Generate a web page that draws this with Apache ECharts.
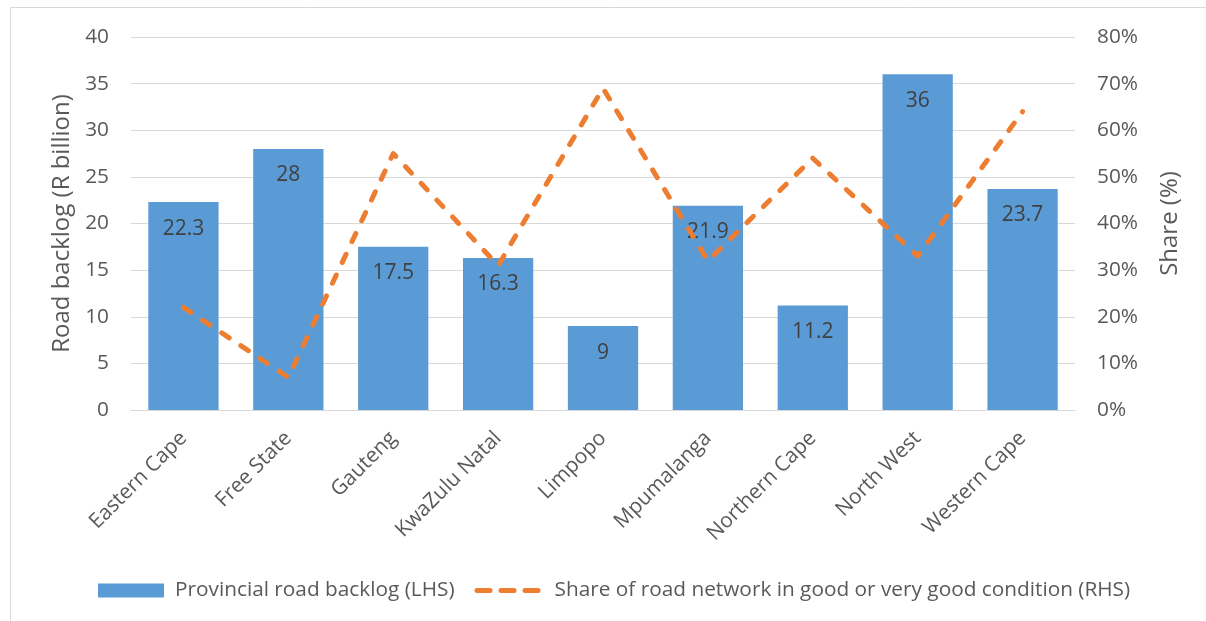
<!DOCTYPE html>
<html>
<head>
<meta charset="utf-8">
<script src="https://cdn.jsdelivr.net/npm/echarts@6/dist/echarts.min.js"></script>
<style>
  html, body { margin: 0; padding: 0; background: #fff; }
  #chart { width: 1206px; height: 621px; }
</style>
</head>
<body>
<div id="chart"></div>
<script>
// provinces
const provinces = ["Eastern Cape", "Free State", "Gauteng", "KwaZulu Natal", "Limpopo",
  "Mpumalanga", "Northern Cape", "North West", "Western Cape"];
// road backlog, R billion (LHS)
const backlog = [22.3, 28, 17.5, 16.3, 9, 21.9, 11.2, 36, 23.7];
// share of network in good / very good condition, % (RHS)
const goodShare = [22, 7, 55, 31, 69, 32, 54, 33, 64];

const leftTicks = { min: 0, max: 40, interval: 5 };
const rightTicks = { min: 0, max: 80, interval: 10 };

const FONT = "'Open Sans', sans-serif";
const GREY = "#595959";

// three rounded dashes for the legend (with invisible points so it sits in a 14px box)
const DASH_ICON =
  "path://M0,-4.5 L0.01,-4.5 L0,-4.5 Z M0,9.5 L0.01,9.5 L0,9.5 Z " +
  "M2.5,0 H15.5 A2.5,2.5 0 0 1 15.5,5 H2.5 A2.5,2.5 0 0 1 2.5,0 Z " +
  "M26.5,0 H39.5 A2.5,2.5 0 0 1 39.5,5 H26.5 A2.5,2.5 0 0 1 26.5,0 Z " +
  "M50.5,0 H63.5 A2.5,2.5 0 0 1 63.5,5 H50.5 A2.5,2.5 0 0 1 50.5,0 Z";

const chart = echarts.init(document.getElementById("chart"));

const option = {
  backgroundColor: "#fff",
  textStyle: { fontFamily: FONT },
  animation: false,
  graphic: [
    {
      type: "rect",
      shape: { x: 10.5, y: 7.5, width: 1300, height: 700 },
      style: { fill: "none", stroke: "#d9d9d9", lineWidth: 1 },
      silent: true,
    },
  ],
  grid: { left: 131, right: 131, top: 37, bottom: 211 },
  legend: {
    left: 93,
    top: 575,
    itemWidth: 66,
    itemHeight: 14,
    itemGap: 20,
    textStyle: { fontFamily: FONT, fontSize: 20.8, color: GREY, padding: [0, 0, 0, 6] },
    data: [
      { name: "Provincial road backlog (LHS)", icon: "rect" },
      {
        name: "Share of road network in good or very good condition (RHS)",
        icon: DASH_ICON,
        itemStyle: { color: "#ed7d31" },
        textStyle: { padding: [0, 0, 0, 9] },
      },
    ],
  },
  xAxis: {
    type: "category",
    data: provinces,
    axisTick: { show: false },
    axisLine: { lineStyle: { color: "#d9d9d9", width: 1 } },
    axisLabel: {
      rotate: 45,
      fontFamily: FONT,
      fontSize: 20.8,
      color: GREY,
      margin: 25,
      interval: 0,
    },
  },
  yAxis: [
    {
      type: "value",
      min: leftTicks.min,
      max: leftTicks.max,
      interval: leftTicks.interval,
      name: "Road backlog (R billion)",
      nameLocation: "middle",
      nameGap: 56,
      nameTextStyle: { fontFamily: FONT, fontSize: 24, color: GREY },
      axisLine: { show: false },
      axisTick: { show: false },
      axisLabel: { fontFamily: FONT, fontSize: 20.8, color: GREY, margin: 22 },
      splitLine: { lineStyle: { color: "#d9d9d9", width: 1 } },
    },
    {
      type: "value",
      min: rightTicks.min,
      max: rightTicks.max,
      interval: rightTicks.interval,
      name: "Share (%)",
      nameLocation: "middle",
      nameGap: 83,
      nameRotate: 90,
      nameTextStyle: { fontFamily: FONT, fontSize: 24, color: GREY },
      axisLine: { show: false },
      axisTick: { show: false },
      axisLabel: {
        fontFamily: FONT,
        fontSize: 20.8,
        color: GREY,
        margin: 22,
        formatter: "{value}%",
      },
      splitLine: { show: false },
    },
  ],
  series: [
    {
      name: "Provincial road backlog (LHS)",
      type: "bar",
      data: backlog,
      barCategoryGap: "33%",
      itemStyle: { color: "#5b9bd5" },
      label: {
        show: true,
        position: "insideTop",
        distance: 16,
        fontFamily: FONT,
        fontSize: 21,
        color: "#404040",
      },
      z: 2,
    },
    {
      name: "Share of road network in good or very good condition (RHS)",
      type: "line",
      yAxisIndex: 1,
      data: goodShare,
      symbol: "none",
      lineStyle: {
        color: "#ed7d31",
        width: 5,
        type: [9, 14],
        cap: "round",
        join: "round",
      },
      itemStyle: { color: "#ed7d31" },
      z: 3,
    },
  ],
};

chart.setOption(option);
</script>
</body>
</html>
